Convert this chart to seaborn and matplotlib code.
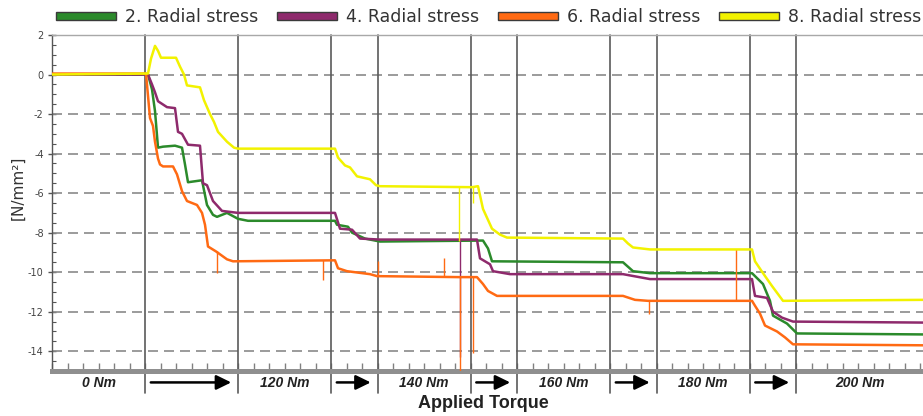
import pandas as pd
import seaborn as sns
import matplotlib.pyplot as plt
import matplotlib.transforms as mtrans
from matplotlib.patches import Patch
from matplotlib.ticker import MultipleLocator, FuncFormatter

# series: (sample position, stress in N/mm2)
series_names = ["2. Radial stress", "4. Radial stress", "6. Radial stress", "8. Radial stress"]
series_colors = ["#2b8a2b", "#8e2a6c", "#ff6a13", "#f2f200"]

radial_2 = [(0, 0.0), (96, 0.0), (100, -0.75), (103, -1.85), (106, -3.7), (111, -3.65), (123, -3.6),
            (130, -3.7), (133, -4.55), (136, -5.45), (143, -5.4), (150, -5.35), (155, -6.6), (161, -7.1),
            (165, -7.2), (175, -7.0), (186, -7.3), (196, -7.4), (283, -7.4), (285, -7.6), (296, -7.7),
            (300, -8.0), (313, -8.3), (328, -8.45), (431, -8.4), (436, -8.8), (440, -9.45), (571, -9.5),
            (581, -9.95), (598, -10.05), (700, -10.05), (711, -10.6), (718, -11.45), (721, -12.2),
            (735, -12.6), (745, -13.1), (871, -13.15)]

radial_4 = [(0, 0.0), (96, 0.0), (100, -0.5), (103, -0.9), (106, -1.35), (115, -1.65), (123, -1.7),
            (126, -2.9), (130, -3.0), (136, -3.55), (148, -3.6), (151, -5.5), (155, -5.6), (161, -6.4),
            (170, -6.9), (186, -7.0), (283, -7.0), (288, -7.8), (300, -7.85), (308, -8.3), (328, -8.35),
            (425, -8.35), (428, -9.3), (438, -9.6), (441, -9.95), (458, -10.1), (571, -10.1),
            (598, -10.35), (700, -10.35), (703, -11.2), (715, -11.3), (721, -12.0), (730, -12.3),
            (741, -12.5), (871, -12.55)]

radial_6 = [(0, 0.05), (94, 0.05), (98, -2.2), (101, -2.6), (103, -3.4), (106, -4.25), (108, -4.55),
            (111, -4.65), (121, -4.65), (125, -5.05), (130, -5.9), (135, -6.4), (145, -6.6), (150, -7.0),
            (153, -7.6), (156, -8.7), (164, -8.95), (175, -9.35), (181, -9.45), (283, -9.4), (286, -9.8),
            (295, -9.95), (318, -10.1), (325, -10.2), (407, -10.25), (425, -10.25), (431, -10.6),
            (436, -10.95), (445, -11.2), (571, -11.2), (583, -11.4), (596, -11.45), (700, -11.45),
            (703, -11.7), (708, -12.1), (713, -12.7), (725, -13.0), (733, -13.3), (741, -13.65),
            (871, -13.7)]

radial_8 = [(0, 0.0), (96, 0.05), (99, 0.8), (103, 1.45), (106, 1.2), (109, 0.85), (124, 0.85),
            (128, 0.4), (132, 0.0), (135, -0.55), (148, -0.65), (152, -1.3), (158, -2.0), (162, -2.4),
            (166, -2.9), (175, -3.4), (182, -3.7), (186, -3.75), (283, -3.75), (286, -4.2), (293, -4.6),
            (298, -4.7), (305, -5.15), (318, -5.3), (324, -5.6), (328, -5.65), (420, -5.7), (426, -5.65),
            (431, -6.8), (440, -7.8), (448, -8.1), (455, -8.25), (571, -8.3), (576, -8.55), (581, -8.75),
            (598, -8.85), (700, -8.85), (703, -9.45), (711, -10.05), (720, -10.7), (731, -11.45),
            (871, -11.4)]

# single-sample spikes: (position, level, tip)
spikes_2 = []
spikes_4 = [(407.5, -8.35, -14.3)]
spikes_6 = [(164.5, -8.95, -10.05), (270.5, -9.4, -10.4), (325.5, -10.2, -9.45), (391.5, -10.25, -9.3),
            (407.5, -10.25, -15.5), (420.5, -10.2, -14.1), (596.5, -11.45, -12.1), (683.5, -11.45, -8.85)]
spikes_8 = [(407, -5.7, -8.4), (421, -5.7, -6.5)]

segment_edges = [0, 93, 186, 279, 325.5, 418.5, 465, 558, 604.5, 697.5, 744, 871]
segment_labels = ["0 Nm", None, "120 Nm", None, "140 Nm", None, "160 Nm", None, "180 Nm", None, "200 Nm"]

sns.set_style("white")
plt.rcParams["font.family"] = ["DejaVu Sans"]
plt.rcParams["axes.unicode_minus"] = False

fig = plt.figure(figsize=(9.23, 4.16), dpi=100)
ax = fig.add_axes([52 / 923, 45 / 416, 871 / 923, 336 / 416])

all_series = [radial_2, radial_4, radial_6, radial_8]
all_spikes = [spikes_2, spikes_4, spikes_6, spikes_8]

# yellow first, orange last (orange sits on top in the 0 Nm part)
draw_order = [3, 0, 1, 2]
for i in draw_order:
    df = pd.DataFrame(all_series[i], columns=["t", "stress"])
    sns.lineplot(data=df, x="t", y="stress", color=series_colors[i], lw=1.8,
                 estimator=None, sort=False, legend=False, ax=ax, zorder=3 + i)
    if all_spikes[i]:
        sp = pd.DataFrame(all_spikes[i], columns=["t", "level", "tip"])
        ax.vlines(sp["t"], sp["level"], sp["tip"], color=series_colors[i], lw=1.0, zorder=3 + i)

ax.set_xlim(0, 871)
ax.set_ylim(-15, 2)
ax.set_xlabel("")
ax.set_ylabel("")

# dashed horizontal grid
for v in range(0, -15, -2):
    ax.axhline(v, color="#8a8a8a", lw=1.2, dashes=(6, 3.6), zorder=1)

# segment separators, running down into the label strip
blend = mtrans.blended_transform_factory(ax.transData, ax.transAxes)
for e in segment_edges[1:-1]:
    ax.plot([e, e], [-0.066, 1], transform=blend, color="#5a5a5a", lw=1.2, clip_on=False, zorder=2)

# torque labels and arrows under the axis
for k, lab in enumerate(segment_labels):
    a, b = segment_edges[k], segment_edges[k + 1]
    if lab is None:
        ax.annotate("", xy=(b - 4, -0.034), xytext=(a + 3, -0.034), xycoords=blend, textcoords=blend,
                    arrowprops=dict(arrowstyle="-|>,head_length=0.45,head_width=0.22",
                                    lw=1.8, color="black", mutation_scale=20))
    else:
        ax.text((a + b) / 2, -0.036, lab, transform=blend, ha="center", va="center",
                fontsize=10, fontstyle="italic", fontweight="bold", color="#222222",
                family=["Liberation Sans", "DejaVu Sans"])

# axes styling
ax.spines["right"].set_visible(False)
ax.spines["top"].set_color("#a8a8a8")
ax.spines["top"].set_linewidth(1)
ax.spines["left"].set_color("#555555")
ax.spines["left"].set_linewidth(1)
ax.spines["bottom"].set_color("#8f8f8f")
ax.spines["bottom"].set_linewidth(3.6)

ax.xaxis.set_major_locator(MultipleLocator(15.5))
ax.tick_params(axis="x", which="major", direction="in", length=6, width=1, color="#808080",
               labelbottom=False, bottom=True)
ax.yaxis.set_major_locator(MultipleLocator(2))
ax.yaxis.set_minor_locator(MultipleLocator(0.5))
ax.yaxis.set_major_formatter(FuncFormatter(lambda v, p: "%d" % v))
ax.tick_params(axis="y", which="major", direction="inout", length=6, width=1, color="#555555",
               labelsize=7, labelcolor="#444444", pad=3, left=True)
ax.tick_params(axis="y", which="minor", direction="in", length=3, width=0.8, color="#555555", left=True)

fig.text(18 / 923, 1 - 188 / 416, "[N/mm²]", rotation=90, ha="center", va="center",
         fontsize=11, color="#333333")
fig.text(483 / 923, 1 - 404 / 416, "Applied Torque", ha="center", va="center", fontsize=13,
         fontweight="bold", color="#222222", family=["Liberation Sans", "DejaVu Sans"])

# legend with outlined swatches
handles = [Patch(facecolor=c, edgecolor="#3a3a3a", lw=1) for c in series_colors]
fig.legend(handles, series_names, loc="center left", bbox_to_anchor=(56 / 923, 1 - 17 / 416),
           ncol=4, frameon=False, fontsize=12.5, handlelength=3.45, handleheight=0.3,
           handletextpad=0.55, columnspacing=1.05, borderaxespad=0, borderpad=0,
           labelcolor="#333333")

fig.savefig("out.png", dpi=100)
